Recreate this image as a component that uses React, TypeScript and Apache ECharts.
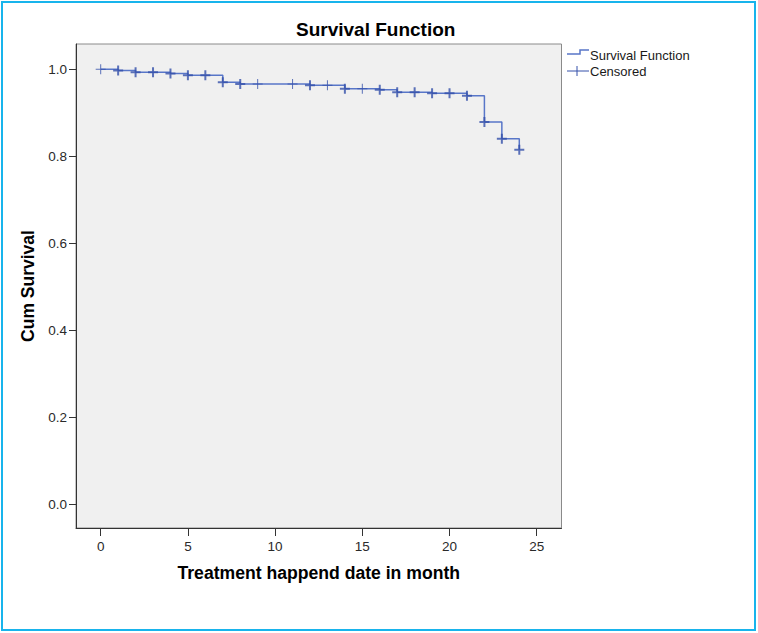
import React, { useEffect, useRef } from "react";
import * as echarts from "echarts";

// Survival function (Kaplan-Meier) values
const times = [0, 1, 2, 3, 4, 5, 6, 7, 8, 9, 11, 12, 13, 14, 15, 16, 17, 18, 19, 20, 21, 22, 23, 24];
const survival = [
  1.0, 0.997, 0.993, 0.993, 0.99, 0.986, 0.986, 0.97, 0.966, 0.966, 0.966, 0.963,
  0.963, 0.955, 0.955, 0.953, 0.947, 0.947, 0.945, 0.945, 0.939, 0.879, 0.84, 0.815,
];
// censored marks: true = several cases censored at that time (drawn bold)
const censoredMany = [
  false, true, true, true, true, true, true, true, true, false, false, true,
  false, true, false, true, true, true, true, true, true, true, true, true,
];
const xTicks = [0, 5, 10, 15, 20, 25];
const yTicks = [0, 0.2, 0.4, 0.6, 0.8, 1.0];
const legendLabels = ["Survival Function", "Censored"];

const FONT = "'Liberation Sans', Arial, sans-serif";
const THIN_PLUS = "path://M4.5,0H5.5V4.5H10V5.5H5.5V10H4.5V5.5H0V4.5H4.5Z";
const BOLD_PLUS = "path://M4,0H6V4H10V6H6V10H4V6H0V4H4Z";
const LINE_COLOR = "#5876c8";
const MARK_COLOR = "#3450aa";

export default function App() {
  const ref = useRef<HTMLDivElement>(null);

  useEffect(() => {
    if (!ref.current) return;
    const chart = echarts.init(ref.current, undefined, { renderer: "svg" });

    const lineData = times.map((t, i) => [t, survival[i]]);
    const censorData = times.map((t, i) => ({
      value: [t, survival[i]],
      symbol: censoredMany[i] ? BOLD_PLUS : THIN_PLUS,
    }));

    chart.setOption({
      animation: false,
      backgroundColor: "#ffffff",
      title: {
        text: "Survival Function",
        left: 291,
        top: 15,
        textStyle: { fontFamily: FONT, fontSize: 19, fontWeight: "bold", color: "#000" },
      },
      grid: {
        left: 76,
        top: 44,
        width: 485.5,
        height: 484,
        show: true,
        backgroundColor: "#f0f0f0",
        borderColor: "#8a8a8a",
        borderWidth: 1,
      },
      xAxis: {
        type: "value",
        min: -1.416,
        max: 26.42,
        name: "Treatment happend date in month",
        nameLocation: "middle",
        nameGap: 36,
        nameTextStyle: { fontFamily: FONT, fontSize: 17.6, fontWeight: "bold", color: "#000" },
        axisLine: { onZero: false, lineStyle: { color: "#333", width: 1 } },
        axisTick: { show: true, length: 8, customValues: xTicks, lineStyle: { color: "#333" } },
        axisLabel: {
          customValues: xTicks,
          margin: 11,
          fontFamily: FONT,
          fontSize: 13.5,
          color: "#2a2a2a",
        },
        splitLine: { show: false },
      },
      yAxis: {
        type: "value",
        min: -0.0545,
        max: 1.058,
        name: "Cum Survival",
        nameLocation: "middle",
        nameGap: 36,
        nameTextStyle: { fontFamily: FONT, fontSize: 17.5, fontWeight: "bold", color: "#000" },
        axisLine: { onZero: false, lineStyle: { color: "#333", width: 1 } },
        axisTick: { show: true, length: 7, customValues: yTicks, lineStyle: { color: "#333" } },
        axisLabel: {
          customValues: yTicks,
          margin: 9,
          fontFamily: FONT,
          fontSize: 13.5,
          color: "#2a2a2a",
          formatter: (v: number) => v.toFixed(1),
        },
        splitLine: { show: false },
      },
      series: [
        {
          name: legendLabels[0],
          type: "line",
          step: "end",
          data: lineData,
          showSymbol: false,
          symbol: "none",
          lineStyle: { color: LINE_COLOR, width: 1.5 },
          z: 2,
        },
        {
          name: legendLabels[1],
          type: "scatter",
          data: censorData,
          symbolSize: 10,
          itemStyle: { color: MARK_COLOR },
          z: 3,
        },
      ],
      graphic: [
        {
          type: "rect",
          shape: { x: 2, y: 2, width: 753, height: 628 },
          style: { fill: "none", stroke: "#18b4ec", lineWidth: 2 },
          silent: true,
        },
        {
          type: "polyline",
          shape: { points: [[567, 54], [580, 54], [580, 50], [589, 50]] },
          style: { stroke: LINE_COLOR, lineWidth: 1.5, fill: "none" },
        },
        {
          type: "text",
          x: 590,
          y: 55,
          style: {
            text: legendLabels[0],
            fontFamily: FONT,
            fontSize: 13,
            fill: "#1a1a1a",
            verticalAlign: "middle",
            align: "left",
          },
        },
        {
          type: "line",
          shape: { x1: 567, y1: 71, x2: 589, y2: 71 },
          style: { stroke: MARK_COLOR, lineWidth: 1 },
        },
        {
          type: "line",
          shape: { x1: 577, y1: 66, x2: 577, y2: 76 },
          style: { stroke: MARK_COLOR, lineWidth: 1 },
        },
        {
          type: "text",
          x: 590,
          y: 71,
          style: {
            text: legendLabels[1],
            fontFamily: FONT,
            fontSize: 13,
            fill: "#1a1a1a",
            verticalAlign: "middle",
            align: "left",
          },
        },
      ],
    });

    return () => {
      chart.dispose();
    };
  }, []);

  return (
    <div
      ref={ref}
      style={{ position: "absolute", left: 0, top: 0, width: 758, height: 633, background: "#fff" }}
    />
  );
}
